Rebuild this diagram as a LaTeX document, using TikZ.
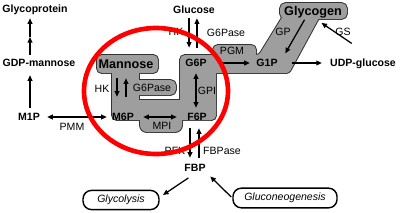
\documentclass[tikz,border=0pt]{standalone}
\usepackage{fontspec}
\setmainfont{Liberation Sans}
\usetikzlibrary{arrows.meta,positioning}

\tikzset{
  metab/.style={font=\fontsize{7.5}{9}\selectfont\bfseries, inner sep=1pt, text height=5.4pt, text depth=0pt},
  bigmetab/.style={font=\fontsize{9}{10}\selectfont\bfseries, inner sep=1pt, text height=6.5pt, text depth=0pt},
  enzyme/.style={font=\fontsize{7.5}{9}\selectfont, inner sep=0pt},
  pathway/.style={draw, line width=1pt, rounded corners=6pt, minimum height=13pt,
    font=\fontsize{7.5}{9}\selectfont\itshape},
  flow/.style={->, line width=0.9pt},
  blobline/.style={draw=black!80, line width=1.4pt},
  blobfill/.style={fill=black!38},
}

\begin{document}
\begin{tikzpicture}[x=0.025cm, y=-0.025cm, >={Triangle[length=4pt,width=3.4pt]}]
\useasboundingbox (0,0) rectangle (400,212);

% grey compartment: outline pass, then fill pass over it
\foreach \pass in {blobline,blobfill}{
  \path[\pass, rounded corners=3.5pt] (97,55) rectangle (158,73);
  \path[\pass] (112,68) rectangle (139,108);
  \path[\pass, rounded corners=4pt] (128,80) rectangle (176,95);
  \path[\pass, rounded corners=3.5pt] (112,100) rectangle (216,120);
  \path[\pass, rounded corners=5pt] (140,110) rectangle (182,132);
  \path[\pass, rounded corners=3.5pt] (180,55) rectangle (216,120);
  \path[\pass, rounded corners=3.5pt] (213,45) rectangle (256,60);
  \path[\pass, rounded corners=2pt] (205,55) -- (259,55) -- (283,16) -- (320,16) -- (289,73) -- (205,73) -- cycle;
  \path[\pass, rounded corners=4pt] (280,3) rectangle (347,19);
}

% metabolites
\node[metab] (glycoprotein) at (35,9) {Glycoprotein};
\node[metab] (gdpm) at (39,63) {GDP-mannose};
\node[metab] (m1p) at (29,117) {M1P};
\node[metab] (glucose) at (194,10) {Glucose};
\node[bigmetab] (glycogen) at (313,11) {Glycogen};
\node[bigmetab] (mannose) at (126,64) {Mannose};
\node[metab] (g6p) at (196,63) {G6P};
\node[metab] (g1p) at (267,63) {G1P};
\node[metab] (udpg) at (363,63) {UDP-glucose};
\node[metab] (m6p) at (123,117) {M6P};
\node[metab] (f6p) at (197,117) {F6P};
\node[metab] (fbp) at (195,168) {FBP};
\node[pathway, minimum width=54pt] (glycolysis) at (121,200) {Glycolysis};
\node[pathway, minimum width=74pt, minimum height=14pt] (gluconeo) at (285,198) {Gluconeogenesis};

% enzymes
\node[enzyme] (hkglc) at (176,32) {HK};
\node[enzyme] (g6paseglc) at (226,33) {G6Pase};
\node[enzyme] (hkman) at (102,89) {HK};
\node[enzyme] (g6paseman) at (152,88) {G6Pase};
\node[enzyme] (gpi) at (207,91) {GPI};
\node[enzyme] (pgm) at (232,51) {PGM};
\node[enzyme] (gp) at (283,32) {GP};
\node[enzyme] (gs) at (343,32) {GS};
\node[enzyme] (pmm) at (72,127) {PMM};
\node[enzyme] (mpi) at (162,126) {MPI};
\node[enzyme] (pfk) at (175,151) {PFK};
\node[enzyme] (fbpase) at (222,151) {FBPase};

% mannose branch to glycoprotein
\coordinate (gpstep) at (30,37);
\draw[flow, shorten <=2pt] (gdpm.north -| gpstep) -- (gpstep);
\draw[flow, shorten >=2.7pt] (gpstep) -- (gpstep |- glycoprotein.south);
\draw[flow, shorten <=2.7pt, shorten >=4.8pt] (m1p.north -| gpstep) -- (gpstep |- gdpm.south);
\draw[flow, <->, shorten <=4pt, shorten >=2.6pt] (m1p.east) -- (m6p.west);

% glucose
\draw[flow, shorten <=2pt, shorten >=7pt] ([xshift=-3.5pt]glucose.south) -- ([xshift=-3.5pt]glucose.south |- g6p.north);
\draw[flow, shorten <=7pt, shorten >=2pt] ([xshift=2.1pt]glucose.south |- g6p.north) -- ([xshift=2.1pt]glucose.south);

% mannose
\draw[flow, shorten <=5.7pt, shorten >=10.5pt] ([xshift=-6.4pt]mannose.south) -- ([xshift=-6.4pt]mannose.south |- m6p.north);
\draw[flow, shorten <=10.5pt, shorten >=5.7pt] (mannose.south |- m6p.north) -- (mannose.south);

% isomerases
\draw[flow, <->, shorten <=3.4pt, shorten >=2.7pt] (g6p.south) -- (g6p.south |- f6p.north);
\draw[flow, <->, shorten <=5.5pt, shorten >=6.3pt] (m6p.east) -- (f6p.west);

% glycogen side
\draw[flow, shorten <=9.9pt, shorten >=3.5pt] (g6p.east) -- (g1p.west);
\draw[flow, shorten <=9.2pt, shorten >=4.7pt] (g1p.east) -- (udpg.west);
\draw[flow, shorten <=2pt, shorten >=3.4pt] ([xshift=-5pt]glycogen.south) -- ([xshift=11.3pt]g1p.north);
\draw[flow] ([xshift=-8pt,yshift=10pt]udpg.north) -- ([xshift=6pt,yshift=-4pt]glycogen.south);

% F6P / FBP
\draw[flow, shorten <=4.1pt, shorten >=3.4pt] ([xshift=-5pt]f6p.south) -- ([xshift=-5pt]f6p.south |- fbp.north);
\draw[flow, shorten <=3.4pt, shorten >=4.1pt] ([xshift=1.4pt]f6p.south |- fbp.north) -- ([xshift=1.4pt]f6p.south);
\draw[flow, shorten <=5.7pt, shorten >=2.8pt] (fbp.south) -- ([yshift=2pt]glycolysis.east);
\draw[flow, shorten <=1pt, shorten >=3pt] (gluconeo.west) -- (fbp.south east);

% highlight ring
\draw[red, line width=3.3pt] (156,91) ellipse [x radius=72, y radius=63];
\end{tikzpicture}
\end{document}
